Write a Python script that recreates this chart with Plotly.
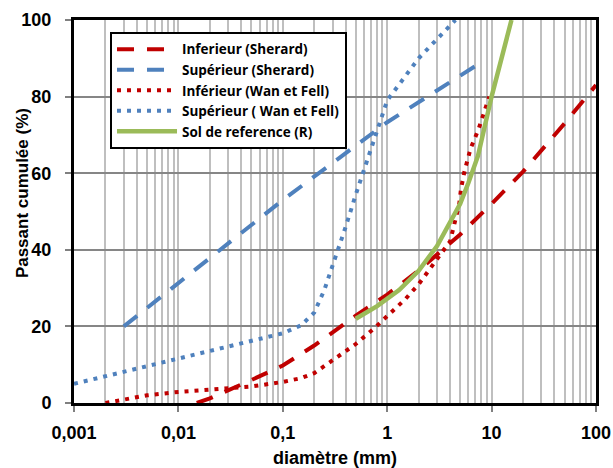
import plotly.graph_objects as go

# ---- data ----
inf_sherard_x = [0.015, 0.02, 0.05, 0.1, 0.2, 0.5, 1, 2, 5, 10, 20, 50, 100]
inf_sherard_y = [0, 1.2, 6, 9.8, 15, 22.8, 28.3, 34.6, 44, 52, 60.4, 73, 83]

sup_sherard_x = [0.003, 0.01, 0.1, 1, 8]
sup_sherard_y = [20, 31.3, 53, 73.3, 89]

inf_wan_x = [0.002, 0.003, 0.005, 0.01, 0.02, 0.05, 0.1, 0.15, 0.2, 0.3, 0.5,
             0.75, 1, 1.5, 2, 3, 4, 4.2, 4.5, 4.9, 5.1, 5.5, 6.3, 7.5, 9.5]
inf_wan_y = [0, 1, 2, 2.9, 3.4, 4.3, 5.5, 6.5, 7.8, 11.1, 15.4,
             19.5, 22.7, 27.2, 31, 37.6, 42.2, 44.5, 48, 52, 56, 60.5, 66.5, 71.5, 80]

sup_wan_x = [0.001, 0.01, 0.1, 0.15, 0.2, 0.25, 0.3, 0.4, 0.5, 0.6, 0.75, 1, 2, 4.5]
sup_wan_y = [5, 11.6, 18.2, 20.3, 23.6, 29.5, 35.8, 46, 54.4, 61, 69, 79, 90, 100]

ref_x = [0.5, 0.8, 1.3, 2, 3, 4, 5, 6, 7.4, 10, 12.5, 15.5]
ref_y = [22, 25.3, 29.5, 34.5, 41, 47.5, 52, 57.5, 64.5, 80, 90, 100]

x_tick_vals = [0.001, 0.01, 0.1, 1, 10, 100]
x_tick_text = ["0,001", "0,01", "0,1", "1", "10", "100"]
y_tick_vals = [0, 20, 40, 60, 80, 100]

RED = "#C00000"
BLUE = "#4F81BD"
GREEN = "#9BBB59"
FONT = "Liberation Sans, Arial, sans-serif"
LEGEND_FONT = "Open Sans, Liberation Sans, sans-serif"

fig = go.Figure()
fig.add_trace(go.Scatter(x=inf_sherard_x, y=inf_sherard_y, mode="lines",
                         name="Inferieur (Sherard)",
                         line=dict(color=RED, width=4, dash="17px,13px")))
fig.add_trace(go.Scatter(x=sup_sherard_x, y=sup_sherard_y, mode="lines",
                         name="Supérieur (Sherard)",
                         line=dict(color=BLUE, width=4, dash="17px,13px")))
fig.add_trace(go.Scatter(x=inf_wan_x, y=inf_wan_y, mode="lines",
                         name="Inférieur (Wan et Fell)",
                         line=dict(color=RED, width=4, dash="4px,6px")))
fig.add_trace(go.Scatter(x=sup_wan_x, y=sup_wan_y, mode="lines",
                         name="Supérieur ( Wan et Fell)",
                         line=dict(color=BLUE, width=4, dash="4px,6px")))
fig.add_trace(go.Scatter(x=ref_x, y=ref_y, mode="lines",
                         name="Sol de reference (R)",
                         line=dict(color=GREEN, width=4.5)))

minor_vals = [m * 10 ** e for e in range(-3, 2) for m in range(2, 10)]

fig.update_xaxes(
    type="log", range=[-3, 2], automargin=False,
    tickmode="array", tickvals=x_tick_vals, ticktext=x_tick_text,
    showgrid=True, gridcolor="#bfbfbf", gridwidth=2,
    minor=dict(tickmode="array", tickvals=minor_vals, showgrid=True,
               gridcolor="#bfbfbf", gridwidth=2, ticks=""),
    ticks="outside", ticklen=6, tickwidth=2, tickcolor="#808080",
    ticklabelstandoff=5, ticklabeloverflow="allow",
    showline=True, linecolor="black", linewidth=3, mirror=True,
    tickfont=dict(family=FONT, size=18, color="black", weight="bold"),
    title=dict(text="diamètre (mm)",
               font=dict(family=FONT, size=18, color="black", weight="bold")),
    zeroline=False,
)
fig.update_yaxes(
    range=[0, 100], automargin=False, tickmode="array", tickvals=y_tick_vals,
    showgrid=True, gridcolor="#868686", gridwidth=2,
    ticks="outside", ticklen=6, tickwidth=2, tickcolor="#808080",
    ticklabelstandoff=10, ticklabeloverflow="allow",
    showline=True, linecolor="black", linewidth=3, mirror=True,
    tickfont=dict(family=FONT, size=18, color="black", weight="bold"),
    zeroline=False,
)

# y-axis title as a rotated annotation (sits slightly above centre, as in the reference)
fig.add_annotation(
    text="Passant cumulée (%)", xref="paper", yref="paper",
    x=-0.0996, y=0.548, xanchor="center", yanchor="middle",
    textangle=-90, showarrow=False,
    font=dict(family=FONT, size=17, color="black", weight="bold"),
)

fig.update_layout(
    width=613, height=468,
    margin=dict(l=74, r=17, t=20, b=65),
    paper_bgcolor="white", plot_bgcolor="white",
    showlegend=True,
    legend=dict(x=0.069, y=0.969, xanchor="left", yanchor="top",
                bgcolor="white", bordercolor="black", borderwidth=2,
                font=dict(family=LEGEND_FONT, size=13.5, color="black", weight="bold"),
                tracegroupgap=0, itemwidth=60),
)

fig.write_html(
    "out.html",
    config={"displayModeBar": False},
    post_script="document.body.style.margin='0';document.body.style.overflow='hidden';",
)
